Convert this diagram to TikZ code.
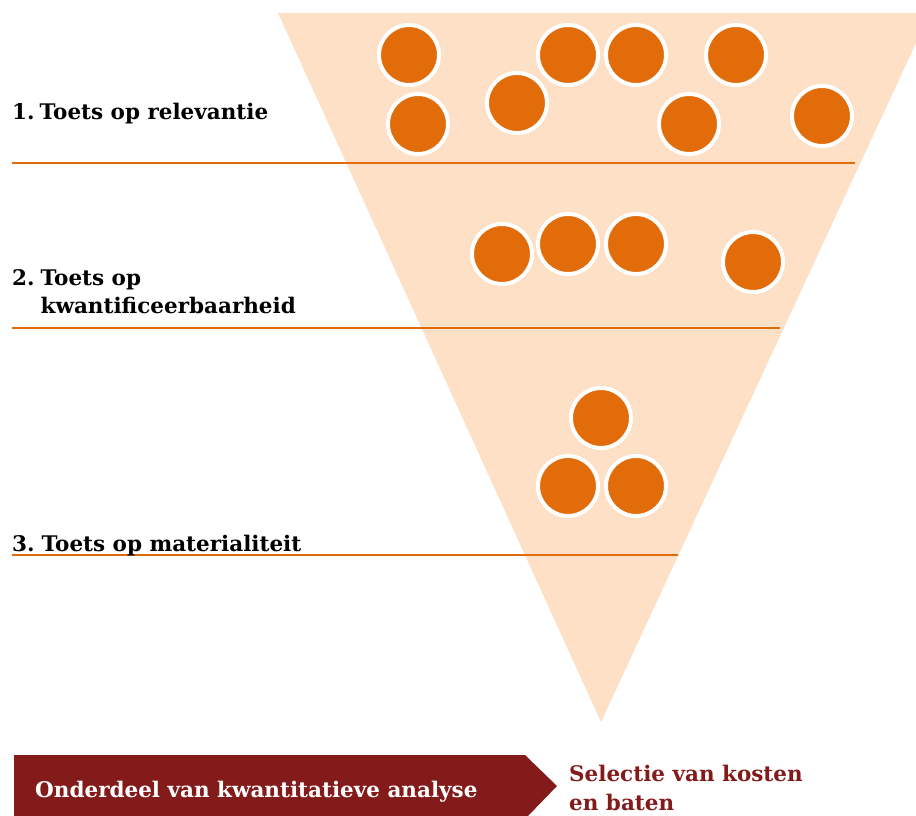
\documentclass[tikz,border=0pt]{standalone}
\usepackage{fontspec}
\setmainfont{DejaVu Serif}
\usepackage{tikz}

\definecolor{perzik}{HTML}{FDE0C5}
\definecolor{oranje}{HTML}{E36C0A}
\definecolor{donkerrood}{HTML}{841B1B}

\tikzset{
  bol/.style={circle,fill=oranje,draw=white,line width=4pt,minimum size=60pt,inner sep=0pt},
  toets/.style={anchor=base west,inner sep=0pt,font=\bfseries\fontsize{21.5}{28.5}\selectfont},
  grens/.style={draw=oranje,line width=2.5pt}
}

\begin{document}
\begin{tikzpicture}[x=1pt,y=-1pt]
  \clip (0,0) rectangle (916,816);
  % trechter
  \fill[perzik] (278,13) -- (930,13) -- (601,722) -- cycle;

  % grenslijnen
  \coordinate (g1a) at (12,163);  \coordinate (g1b) at (855,163);
  \coordinate (g2a) at (12,328);  \coordinate (g2b) at (780,328);
  \coordinate (g3a) at (12,555);  \coordinate (g3b) at (678,555);
  \draw[grens] (g1a) -- (g1b);
  \draw[grens] (g2a) -- (g2b);
  \draw[grens] (g3a) -- (g3b);

  % kosten en baten
  \node[bol] (b1) at (409,55) {};
  \node[bol] (b2) at (568,55) {};
  \node[bol] (b3) at (636,55) {};
  \node[bol] (b4) at (736,55) {};
  \node[bol] (b5) at (517,103) {};
  \node[bol] (b6) at (418,124) {};
  \node[bol] (b7) at (689,124) {};
  \node[bol] (b8) at (822,116) {};
  \node[bol] (b9) at (502,254) {};
  \node[bol] (b10) at (568,244) {};
  \node[bol] (b11) at (636,244) {};
  \node[bol] (b12) at (753,262) {};
  \node[bol] (b13) at (601,418) {};
  \node[bol] (b14) at (568,486) {};
  \node[bol] (b15) at (636,486) {};

  % toetsen
  \node[toets] (t1) at (12,119) {1.\hspace{5pt}Toets op relevantie};
  \node[toets] (t2) at (12,285) {%
    \begin{tabular}[t]{@{}l@{\hspace{6pt}}l@{}}2.&Toets op\\&kwantificeerbaarheid\end{tabular}};
  \node[toets] (t3) at (12,551) {3.\hspace{7pt}Toets op materialiteit};

  % balk
  \fill[donkerrood] (14,755) -- (525,755) -- (557,786) -- (528,816) -- (14,816) -- cycle;
  \node[toets,text=white] (onderdeel) at (35,797) {Onderdeel van kwantitatieve analyse};
  \node[toets,text=donkerrood] (selectie) at (569,781) {Selectie van kosten};
  \node[toets,text=donkerrood] (baten) at (569,810) {en baten};
\end{tikzpicture}
\end{document}
